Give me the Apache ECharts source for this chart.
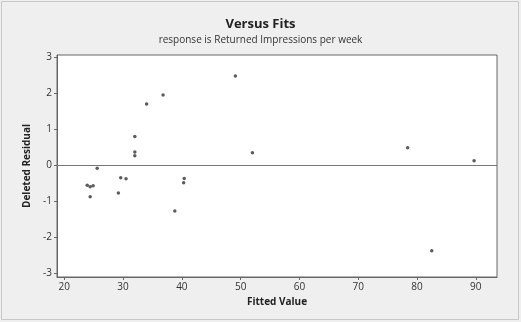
<!DOCTYPE html>
<html><head><meta charset="utf-8">
<script src="https://cdn.jsdelivr.net/npm/echarts@6/dist/echarts.min.js"></script>
<style>html,body{margin:0;padding:0;background:#efefef}#c{width:521px;height:322px}</style>
</head><body><div id="c"></div>
<script>
const fittedValues = [49.1, 36.8, 34.0, 32.0, 32.0, 32.0, 52.0, 25.6, 29.6, 30.5, 40.4, 40.3, 23.9, 24.4, 24.9, 24.4, 29.2, 38.8, 78.4, 89.7, 82.5];
const deletedResiduals = [2.47, 1.94, 1.69, 0.79, 0.36, 0.26, 0.34, -0.09, -0.35, -0.38, -0.37, -0.49, -0.56, -0.60, -0.57, -0.88, -0.77, -1.27, 0.48, 0.12, -2.37];
const xTicks = [20, 30, 40, 50, 60, 70, 80, 90];
const yTicks = [-3, -2, -1, 0, 1, 2, 3];
const titleText = 'Versus Fits';
const subtitleText = 'response is Returned Impressions per week';
const xName = 'Fitted Value';
const yName = 'Deleted Residual';

const points = fittedValues.map((x, i) => [x, deletedResiduals[i]]);
const chart = echarts.init(document.getElementById('c'), null, {renderer: 'canvas'});
const font = 'Open Sans, DejaVu Sans, sans-serif';
chart.setOption({
  backgroundColor: '#efefef',
  animation: false,
  title: {
    text: titleText, subtext: subtitleText, left: 'center', top: 13, itemGap: 4,
    textStyle: {fontFamily: font, fontSize: 13, fontWeight: 'bold', color: '#222'},
    subtextStyle: {fontFamily: font, fontSize: 10, color: '#333'}
  },
  graphic: [{type: 'rect', shape: {x: 1.5, y: 1.5, width: 517, height: 318}, style: {fill: 'none', stroke: '#c8c8c8', lineWidth: 1}}],
  grid: {left: 57, right: 24, top: 55, bottom: 45, show: true, backgroundColor: '#fff', borderColor: '#666', borderWidth: 1},
  xAxis: {
    type: 'value', min: 18.76, max: 93.6, interval: 10,
    name: xName, nameLocation: 'middle', nameGap: 15,
    nameTextStyle: {fontFamily: font, fontSize: 10, fontWeight: 'bold', color: '#222'},
    axisLine: {show: true, onZero: false, lineStyle: {color: '#666'}},
    axisTick: {show: true, length: 3, lineStyle: {color: '#666'}, customValues: xTicks},
    axisLabel: {fontFamily: font, fontSize: 10, color: '#333', margin: 5, customValues: xTicks},
    splitLine: {show: false}
  },
  yAxis: {
    type: 'value', min: -3.1, max: 3.05,
    name: yName, nameLocation: 'middle', nameGap: 24,
    nameTextStyle: {fontFamily: font, fontSize: 10, fontWeight: 'bold', color: '#222'},
    axisLine: {show: true, onZero: false, lineStyle: {color: '#666'}},
    axisTick: {show: true, length: 3, lineStyle: {color: '#666'}, customValues: yTicks},
    axisLabel: {fontFamily: font, fontSize: 10, color: '#333', margin: 5, customValues: yTicks},
    splitLine: {show: false}
  },
  series: [{
    type: 'scatter', data: points, symbol: 'circle', symbolSize: 3.5,
    itemStyle: {color: '#333'},
    markLine: {
      silent: true, symbol: 'none', label: {show: false},
      lineStyle: {color: '#777', type: 'solid', width: 1},
      data: [{yAxis: 0}]
    }
  }]
});
</script></body></html>
